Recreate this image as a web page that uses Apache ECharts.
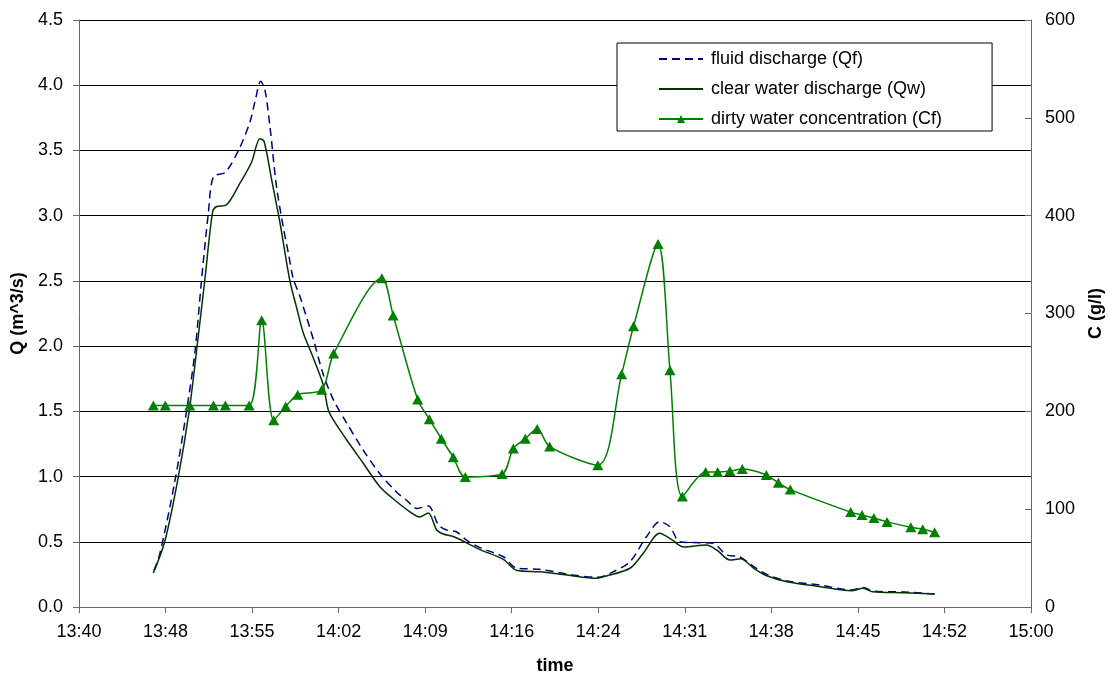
<!DOCTYPE html>
<html>
<head>
    <meta charset="utf-8">
    <title>discharge and concentration</title>
    <style>
        body { margin: 0; background: #fff; }
        #chart { width: 1108px; height: 675px; }
    </style>
</head>
<body>
    <div id="chart"></div>
    <script src="https://cdn.jsdelivr.net/npm/echarts@6/dist/echarts.min.js"></script>
    <script>
        // time axis: minutes after 13:40
        var xLabels = ['13:40', '13:48', '13:55', '14:02', '14:09', '14:16', '14:24', '14:31', '14:38', '14:45', '14:52', '15:00'];
        var xStep = 80 / 11;

        // fluid discharge Qf (m^3/s)
        var qfTime = [6.3, 6.8, 8.07, 9.05, 9.75, 10.3, 10.87, 11.3, 12.27, 13.4, 14.37, 14.8, 15.27, 15.63, 16.05, 16.6, 17.17, 17.6, 18.0, 18.57, 18.85, 19.7, 20.5, 21.37, 22.5, 23.9, 25.3, 26.7, 27.5, 28.4, 29.35, 30.2, 30.9, 31.7, 32.6, 33.7, 35.66, 36.8, 38.7, 41.5, 43.6, 44.9, 46.3, 47.7, 48.8, 49.66, 50.5, 52.2, 53.3, 54.4, 55.5, 56.7, 57.8, 59.5, 62.3, 64.9, 65.9, 66.7, 69.3, 71.9];
        var qfValue = [0.28, 0.41, 0.97, 1.51, 1.96, 2.51, 3.02, 3.30, 3.33, 3.50, 3.72, 3.88, 4.03, 3.96, 3.68, 3.22, 2.91, 2.71, 2.52, 2.38, 2.30, 2.05, 1.79, 1.59, 1.41, 1.20, 1.02, 0.88, 0.82, 0.756, 0.774, 0.63, 0.59, 0.577, 0.51, 0.455, 0.385, 0.297, 0.289, 0.245, 0.228, 0.27, 0.347, 0.54, 0.654, 0.615, 0.50, 0.493, 0.488, 0.40, 0.385, 0.31, 0.25, 0.20, 0.168, 0.13, 0.15, 0.122, 0.115, 0.10];

        // clear water discharge Qw (m^3/s)
        var qwTime = [6.25, 7.23, 8.35, 9.27, 9.9, 10.6, 11.23, 11.57, 12.35, 13.53, 14.5, 15.2, 15.55, 16.2, 16.9, 17.7, 18.3, 18.85, 19.6, 20.5, 20.95, 21.4, 22.5, 23.9, 25.3, 26.4, 27.8, 28.65, 29.35, 30.06, 30.6, 31.45, 32.6, 33.7, 35.66, 36.8, 38.7, 41.0, 43.5, 44.3, 46.3, 47.4, 48.8, 49.9, 50.8, 52.7, 53.6, 54.7, 55.6, 56.7, 57.8, 59.5, 62.3, 64.9, 65.9, 66.7, 69.3, 71.9];
        var qwValue = [0.26, 0.51, 1.00, 1.51, 1.98, 2.53, 3.03, 3.07, 3.08, 3.25, 3.41, 3.59, 3.57, 3.27, 2.94, 2.51, 2.29, 2.10, 1.93, 1.71, 1.51, 1.43, 1.28, 1.10, 0.92, 0.83, 0.73, 0.69, 0.72, 0.59, 0.56, 0.54, 0.49, 0.44, 0.365, 0.28, 0.27, 0.245, 0.22, 0.238, 0.297, 0.41, 0.565, 0.51, 0.46, 0.475, 0.437, 0.36, 0.37, 0.297, 0.24, 0.194, 0.156, 0.125, 0.143, 0.117, 0.11, 0.10];

        // dirty water concentration Cf (g/l)
        var cfTime = [6.25, 7.25, 9.3, 11.3, 12.3, 14.3, 15.35, 16.36, 17.37, 18.38, 20.4, 21.4, 25.45, 26.4, 28.46, 29.44, 30.45, 31.45, 32.46, 35.55, 36.5, 37.5, 38.5, 39.55, 43.6, 45.6, 46.6, 48.66, 49.66, 50.7, 52.66, 53.67, 54.7, 55.74, 57.76, 58.77, 59.77, 64.85, 65.8, 66.8, 67.9, 69.9, 70.9, 71.9];
        var cfValue = [206, 206, 206, 206, 206, 206, 293, 191, 205, 217, 222, 259, 336, 298, 212, 192, 172, 153, 133, 136, 162, 172, 182, 164, 145, 238, 287, 371, 242, 113, 138, 138, 139, 141, 135, 127, 120, 97, 94, 91, 87, 81.5, 79.4, 76.4];

        var seriesNames = ['fluid discharge (Qf)', 'clear water discharge (Qw)', 'dirty water concentration (Cf)'];

        function zip(xs, ys) {
            var res = [];
            for (var i = 0; i < xs.length; i++) {
                res.push([xs[i], ys[i]]);
            }
            return res;
        }

        var font = 'Liberation Sans, Arial, sans-serif';
        var chart = echarts.init(document.getElementById('chart'));

        var option = {
            animation: false,
            textStyle: { fontFamily: font },
            grid: { left: 79, top: 20, width: 952, height: 587, containLabel: false, outerBoundsMode: 'none' },
            legend: {
                // no marker on the two discharge lines
                data: [
                    { name: seriesNames[0], itemStyle: { opacity: 0 } },
                    { name: seriesNames[1], itemStyle: { opacity: 0 } },
                    { name: seriesNames[2] }
                ],
                orient: 'vertical',
                left: 617,
                top: 43,
                padding: [7, 50, 3, 41],
                itemWidth: 44,
                itemHeight: 10,
                itemGap: 12,
                borderColor: '#000',
                borderWidth: 1,
                backgroundColor: '#fff',
                textStyle: { fontSize: 18, color: '#000', fontFamily: font, padding: [0, 0, 0, 3] }
            },
            xAxis: {
                type: 'value',
                min: 0,
                max: 80,
                interval: xStep,
                name: 'time',
                nameLocation: 'middle',
                nameGap: 50,
                nameTextStyle: { fontSize: 18, fontWeight: 'bold', color: '#000', fontFamily: font },
                axisLine: { lineStyle: { color: '#666', width: 1 } },
                axisTick: { length: 6, lineStyle: { color: '#666' } },
                axisLabel: {
                    fontSize: 18, color: '#000', margin: 16, fontFamily: font,
                    formatter: function (v) { return xLabels[Math.round(v / xStep)]; }
                },
                splitLine: { show: false }
            },
            yAxis: [{
                type: 'value',
                min: 0,
                max: 4.5,
                interval: 0.5,
                name: 'Q (m^3/s)',
                nameLocation: 'middle',
                nameRotate: 90,
                nameGap: 52,
                nameTextStyle: { fontSize: 18, fontWeight: 'bold', color: '#000', fontFamily: font },
                axisLine: { show: true, lineStyle: { color: '#666', width: 1 } },
                axisTick: { show: true, length: 6, lineStyle: { color: '#666' } },
                axisLabel: {
                    fontSize: 18, color: '#000', margin: 16, fontFamily: font,
                    formatter: function (v) { return v.toFixed(1); }
                },
                splitLine: { show: true, lineStyle: { color: '#000', width: 1 } }
            }, {
                type: 'value',
                min: 0,
                max: 600,
                interval: 100,
                position: 'right',
                name: 'C (g/l)',
                nameLocation: 'middle',
                nameRotate: 90,
                nameGap: 56,
                nameTextStyle: { fontSize: 18, fontWeight: 'bold', color: '#000', fontFamily: font },
                axisLine: { show: true, lineStyle: { color: '#666', width: 1 } },
                axisTick: { show: true, inside: true, length: 6, lineStyle: { color: '#666' } },
                axisLabel: { fontSize: 18, color: '#000', margin: 14, fontFamily: font },
                splitLine: { show: false }
            }],
            series: [{
                name: seriesNames[0],
                type: 'line',
                data: zip(qfTime, qfValue),
                symbol: 'none',
                smooth: 0.3,
                lineStyle: { color: '#000080', width: 1.5, type: [8, 5] },
                itemStyle: { color: '#000080' }
            }, {
                name: seriesNames[1],
                type: 'line',
                data: zip(qwTime, qwValue),
                symbol: 'none',
                smooth: 0.3,
                lineStyle: { color: '#003300', width: 1.5 },
                itemStyle: { color: '#003300' }
            }, {
                name: seriesNames[2],
                type: 'line',
                yAxisIndex: 1,
                data: zip(cfTime, cfValue),
                symbol: 'triangle',
                symbolSize: [11, 10],
                smooth: 0.3,
                lineStyle: { color: '#008000', width: 1.5 },
                itemStyle: { color: '#008000' }
            }]
        };

        chart.setOption(option);
    </script>
</body>
</html>
